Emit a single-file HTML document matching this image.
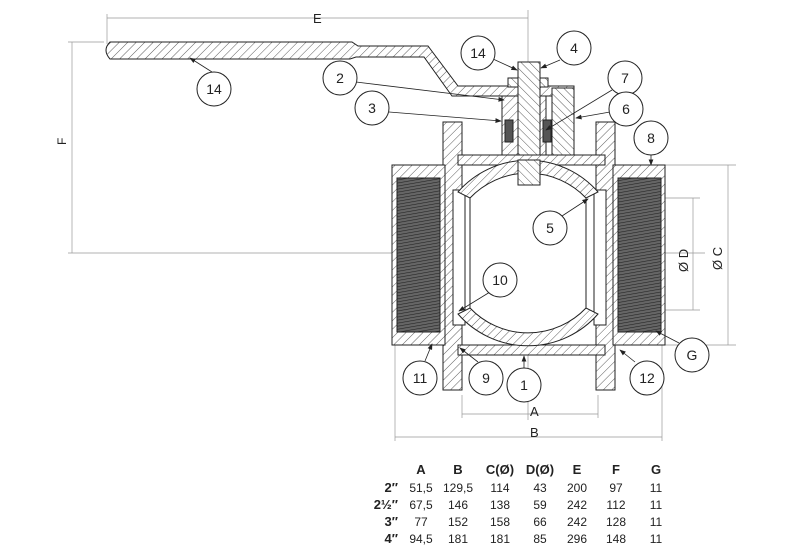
<!DOCTYPE html>
<html><head><meta charset="utf-8"><style>
html,body{margin:0;padding:0;background:#fff}
svg{display:block}
text{font-family:"Liberation Sans",sans-serif;fill:#222}
</style></head><body>
<svg width="800" height="549" viewBox="0 0 800 549" xmlns="http://www.w3.org/2000/svg">
<defs>
<pattern id="h" width="6" height="6" patternUnits="userSpaceOnUse" patternTransform="rotate(45)"><rect width="6" height="6" fill="#fff"/><line x1="0" y1="0" x2="0" y2="6" stroke="#333" stroke-width="0.8"/></pattern>
<pattern id="h2" width="6" height="6" patternUnits="userSpaceOnUse" patternTransform="rotate(-45)"><rect width="6" height="6" fill="#fff"/><line x1="0" y1="0" x2="0" y2="6" stroke="#333" stroke-width="0.8"/></pattern>
<pattern id="th" width="3" height="3" patternUnits="userSpaceOnUse" patternTransform="rotate(80)"><rect width="3" height="3" fill="#666"/><line x1="0" y1="0" x2="0" y2="3" stroke="#222" stroke-width="1.2"/></pattern>
<marker id="ar" markerWidth="8" markerHeight="6" refX="7" refY="3" orient="auto"><path d="M0,0 L8,3 L0,6z" fill="#222"/></marker>
</defs>
<g stroke="#999" stroke-width="0.7" fill="none">
<line x1="107" y1="14" x2="107" y2="44"/><line x1="528" y1="10" x2="528" y2="420"/>
<line x1="68" y1="42" x2="104" y2="42"/><line x1="68" y1="253" x2="705" y2="253"/>
<line x1="72" y1="42" x2="72" y2="253"/>
<line x1="662" y1="165" x2="736" y2="165"/><line x1="662" y1="345" x2="736" y2="345"/>
<line x1="728" y1="165" x2="728" y2="345"/>
<line x1="620" y1="198" x2="700" y2="198"/><line x1="620" y1="310" x2="700" y2="310"/>
<line x1="693" y1="198" x2="693" y2="310"/>
<line x1="462" y1="395" x2="462" y2="418"/><line x1="598" y1="395" x2="598" y2="418"/>
<line x1="395" y1="345" x2="395" y2="441"/><line x1="662" y1="345" x2="662" y2="441"/>
<line x1="462" y1="414" x2="598" y2="414"/><line x1="395" y1="437" x2="662" y2="437"/>
<line x1="107" y1="18" x2="528" y2="18"/>
<line x1="498" y1="175" x2="560" y2="335" stroke-dasharray="18,3,2,3"/>
</g>
<text x="313" y="23" font-size="13">E</text>
<text x="66" y="145" font-size="12" transform="rotate(-90 66 145)">F</text>
<text x="530" y="416" font-size="13">A</text>
<text x="530" y="437" font-size="13">B</text>
<text x="722" y="270" font-size="13" transform="rotate(-90 722 270)">Ø C</text>
<text x="688" y="272" font-size="13" transform="rotate(-90 688 272)">Ø D</text>
<g stroke="#222" stroke-width="1">
<path d="M110,42 L352,42 L358,46 L428,46 L458,86 L574,86 L574,96 L452,96 L424,57 L356,57 L350,59 L110,59 Q102,50 110,42z" fill="url(#h)"/>
<rect x="508" y="78" width="40" height="9" fill="url(#h2)"/>
<rect x="502" y="96" width="44" height="62" fill="url(#h)"/>
<rect x="552" y="88" width="22" height="68" fill="url(#h2)"/>
<rect x="518" y="62" width="22" height="124" fill="url(#h2)"/>
<rect x="505" y="120" width="8" height="22" fill="#555"/>
<rect x="543" y="120" width="8" height="22" fill="#555"/>
<rect x="443" y="122" width="19" height="268" fill="url(#h)"/>
<rect x="596" y="122" width="19" height="268" fill="url(#h)"/>
<path d="M392,165 L445,165 L445,345 L392,345z" fill="url(#h)"/>
<path d="M613,165 L665,165 L665,345 L613,345z" fill="url(#h)"/>
<rect x="397" y="178" width="43" height="154" fill="url(#th)"/>
<rect x="618" y="178" width="43" height="154" fill="url(#th)"/>
<rect x="458" y="155" width="147" height="10" fill="url(#h)"/>
<rect x="458" y="345" width="147" height="10" fill="url(#h)"/>
<rect x="462" y="165" width="134" height="180" fill="#fff"/>
<rect x="453" y="190" width="12" height="135" fill="#fff"/>
<rect x="594" y="190" width="12" height="135" fill="#fff"/>
<path d="M458,192 A93,93 0 0 1 598,192 L586,198 A80,80 0 0 0 470,198 z" fill="url(#h)"/>
<path d="M458,314 A93,93 0 0 0 598,314 L586,308 A80,80 0 0 1 470,308 z" fill="url(#h)"/>
<rect x="518" y="160" width="22" height="25" fill="url(#h2)"/>
<line x1="470" y1="198" x2="470" y2="308"/><line x1="586" y1="198" x2="586" y2="308"/>
</g>
<g stroke="#222" stroke-width="0.8" marker-end="url(#ar)">
<line x1="212" y1="72" x2="190" y2="58"/>
<line x1="356" y1="82" x2="504" y2="100"/>
<line x1="389" y1="112" x2="501" y2="121"/>
<line x1="493" y1="59" x2="517" y2="70"/>
<line x1="560" y1="60" x2="541" y2="68"/>
<line x1="612" y1="90" x2="546" y2="130"/>
<line x1="610" y1="112" x2="576" y2="118"/>
<line x1="651" y1="155" x2="651" y2="165"/>
<line x1="562" y1="216" x2="588" y2="199"/>
<line x1="490" y1="292" x2="459" y2="311"/>
<line x1="425" y1="361" x2="432" y2="344"/>
<line x1="478" y1="362" x2="460" y2="348"/>
<line x1="524" y1="368" x2="524" y2="356"/>
<line x1="635" y1="362" x2="620" y2="350"/>
<line x1="679" y1="343" x2="656" y2="331"/>
</g>
<g fill="#fff" stroke="#222" stroke-width="1">
<circle cx="214" cy="89" r="17"/><circle cx="340" cy="78" r="17"/><circle cx="372" cy="108" r="17"/>
<circle cx="478" cy="53" r="17"/><circle cx="574" cy="48" r="17"/><circle cx="625" cy="78" r="17"/>
<circle cx="626" cy="109" r="17"/><circle cx="651" cy="138" r="17"/><circle cx="550" cy="228" r="17"/>
<circle cx="500" cy="280" r="17"/><circle cx="420" cy="378" r="17"/><circle cx="486" cy="378" r="17"/>
<circle cx="524" cy="385" r="17"/><circle cx="647" cy="378" r="17"/><circle cx="692" cy="355" r="17"/>
</g>
<g font-size="14" text-anchor="middle">
<text x="214" y="94">14</text><text x="340" y="83">2</text><text x="372" y="113">3</text>
<text x="478" y="58">14</text><text x="574" y="53">4</text><text x="625" y="83">7</text>
<text x="626" y="114">6</text><text x="651" y="143">8</text><text x="550" y="233">5</text>
<text x="500" y="285">10</text><text x="420" y="383">11</text><text x="486" y="383">9</text>
<text x="524" y="390">1</text><text x="647" y="383">12</text><text x="692" y="360">G</text>
</g>
<g font-size="13" text-anchor="middle" font-weight="bold">
<text x="421" y="474">A</text><text x="458" y="474">B</text><text x="500" y="474">C(Ø)</text>
<text x="540" y="474">D(Ø)</text><text x="577" y="474">E</text><text x="616" y="474">F</text><text x="656" y="474">G</text>
</g>
<g font-size="13" text-anchor="end" font-weight="bold">
<text x="398" y="492">2″</text><text x="398" y="509">2½″</text><text x="398" y="526">3″</text><text x="398" y="543">4″</text>
</g>
<g font-size="12" text-anchor="middle">
<text x="421" y="492">51,5</text><text x="458" y="492">129,5</text><text x="500" y="492">114</text><text x="540" y="492">43</text><text x="577" y="492">200</text><text x="616" y="492">97</text><text x="656" y="492">11</text>
<text x="421" y="509">67,5</text><text x="458" y="509">146</text><text x="500" y="509">138</text><text x="540" y="509">59</text><text x="577" y="509">242</text><text x="616" y="509">112</text><text x="656" y="509">11</text>
<text x="421" y="526">77</text><text x="458" y="526">152</text><text x="500" y="526">158</text><text x="540" y="526">66</text><text x="577" y="526">242</text><text x="616" y="526">128</text><text x="656" y="526">11</text>
<text x="421" y="543">94,5</text><text x="458" y="543">181</text><text x="500" y="543">181</text><text x="540" y="543">85</text><text x="577" y="543">296</text><text x="616" y="543">148</text><text x="656" y="543">11</text>
</g>
</svg>
</body></html>
